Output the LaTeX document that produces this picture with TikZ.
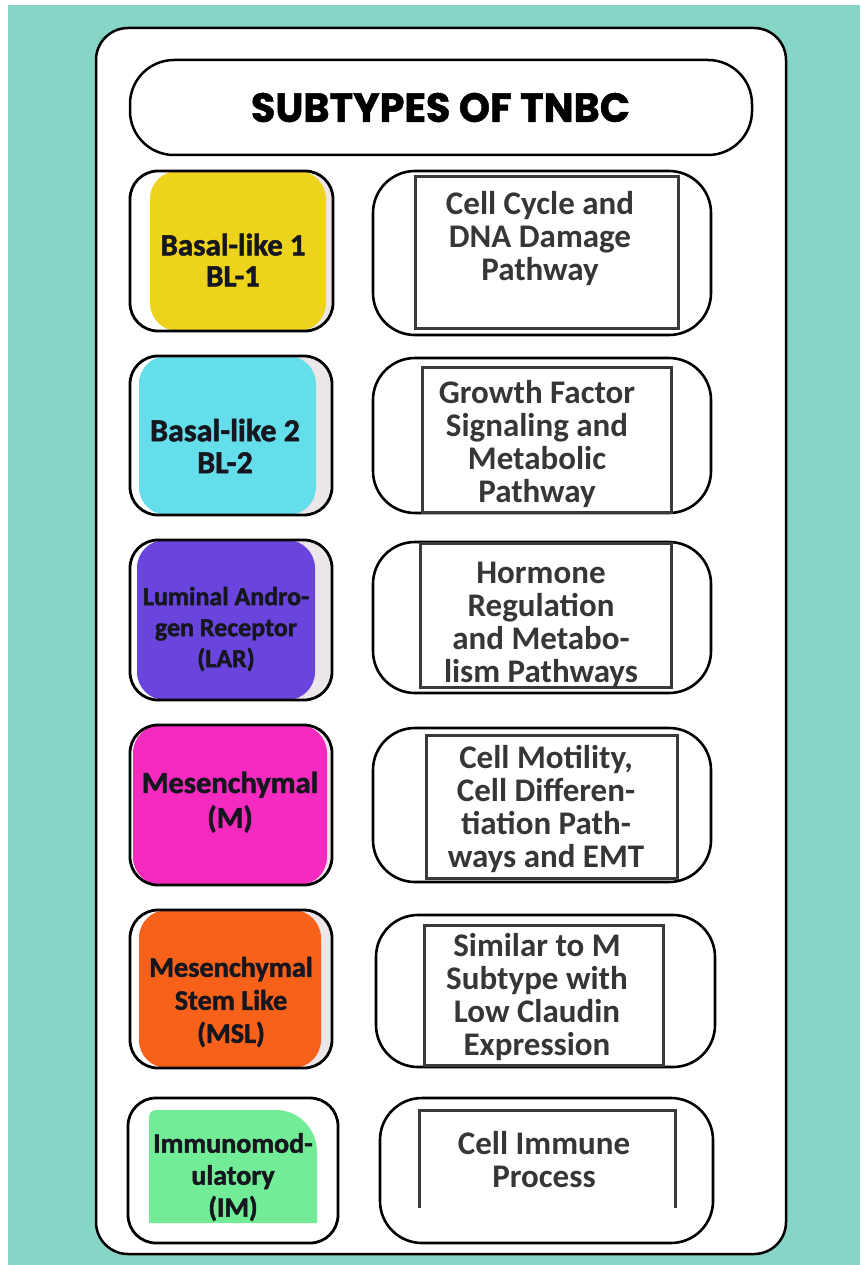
\documentclass[tikz,border=0pt]{standalone}
\usepackage{graphicx}
\usepackage{fontspec}
\setmainfont{Carlito}
\newfontfamily\titlefont{Poppins}[BoldFeatures={FakeBold=1.2}]
\newfontfamily\rfont{Carlito}
\newfontfamily\lfont{Carlito}[BoldFeatures={FakeBold=1.6}]
\definecolor{bgteal}{HTML}{86D5C7}
\definecolor{cyellow}{HTML}{EED31C}
\definecolor{ccyan}{HTML}{63DEEA}
\definecolor{cpurple}{HTML}{6A45DD}
\definecolor{cmagenta}{HTML}{F52ABF}
\definecolor{corange}{HTML}{F8611A}
\definecolor{cgreen}{HTML}{73EC98}
\definecolor{innergray}{HTML}{3A3A3A}
\definecolor{lefttext}{HTML}{16161E}
\definecolor{righttext}{HTML}{363636}
\definecolor{edgestrip}{HTML}{ECE6E9}
\tikzset{
  frame/.style={draw=black, line width=2.5pt, fill=white, rounded corners=32pt, inner sep=0pt, outer sep=0pt, anchor=north west},
  titlebox/.style={draw=black, line width=2.5pt, fill=white, rounded corners=44pt, inner sep=0pt, outer sep=0pt, anchor=north west},
  lbox/.style={draw=black, line width=2.8pt, fill=white, rounded corners=28pt, inner sep=0pt, outer sep=0pt, anchor=north west},
  rbox/.style={draw=black, line width=2.6pt, fill=white, rounded corners=42pt, inner sep=0pt, outer sep=0pt, anchor=north west},
  inrect/.style={draw=innergray, line width=3pt, fill=white, inner sep=0pt, outer sep=0pt, anchor=north west},
  inline/.style={draw=innergray, line width=3pt},
  colfill/.style n args={3}{path picture={
    \fill[edgestrip] ([xshift=#2]path picture bounding box.north west) rectangle (path picture bounding box.south east);
    \fill[#1] ([xshift=#2]path picture bounding box.north west) rectangle ([xshift=-#3]path picture bounding box.south east);}},
  ltext/.style={text=lefttext, align=center, inner sep=0pt},
  rtext/.style={text=righttext, align=center, inner sep=0pt, font=\rfont\bfseries\fontsize{33}{33}\selectfont},
}
\begin{document}
\begin{tikzpicture}[x=1pt,y=-1pt]
\useasboundingbox (0,0) rectangle (860,1265);
\fill[white] (0,0) rectangle (860,1265);
\fill[bgteal] (8,5) rectangle (860,1265);
% frame
\node[frame, minimum width=690pt, minimum height=1226pt] (frame) at (96,28) {};
% title
\node[titlebox, minimum width=622pt, minimum height=95pt] (title) at (130,60) {};
\node[inner sep=0pt] (titletext) at (440.5,107.5) {\resizebox{379pt}{29pt}{\titlefont\bfseries SUBTYPES OF TNBC}};
% left boxes
\node[lbox, minimum width=203pt, minimum height=160pt, colfill={cyellow}{20pt}{7pt}] (l1) at (130,171) {};
\node[lbox, minimum width=202pt, minimum height=159pt, colfill={ccyan}{9pt}{16pt}] (l2) at (130,356) {};
\node[lbox, minimum width=202pt, minimum height=160pt, colfill={cpurple}{7pt}{17pt}] (l3) at (130,540) {};
\node[lbox, minimum width=202pt, minimum height=160pt, colfill={cmagenta}{3pt}{5pt}] (l4) at (130,725) {};
\node[lbox, minimum width=202pt, minimum height=158pt, colfill={corange}{9pt}{11pt}] (l5) at (130,910) {};
\node[lbox, minimum width=210pt, minimum height=145pt] (l6) at (128,1098) {};
\fill[cgreen] (149,1223) -- (149,1117) to[out=90,in=180] (156,1110) -- (276,1110) to[out=0,in=90] (317,1152) -- (317,1223) -- cycle;
% left texts
\node[ltext, font=\lfont\bfseries\fontsize{31}{31}\selectfont] (lt1) at (233,260) {Basal-like 1\\BL-1};
\node[ltext, font=\lfont\bfseries\fontsize{32}{32}\selectfont] (lt2) at (225,446) {Basal-like 2\\BL-2};
\node[ltext, font=\lfont\bfseries\fontsize{26}{31}\selectfont] (lt3) at (226,629) {Luminal Andro-\\gen Receptor\\(LAR)};
\node[ltext, font=\lfont\bfseries\fontsize{30.5}{35}\selectfont] (lt4) at (230,802) {Mesenchymal\\(M)};
\node[ltext, font=\lfont\bfseries\fontsize{28.3}{33}\selectfont] (lt5) at (231,1002) {Mesenchymal\\Stem Like\\(MSL)};
\node[ltext, font=\lfont\bfseries\fontsize{28}{32}\selectfont] (lt6) at (233,1177) {Immunomod-\\ulatory\\(IM)};
% right boxes
\node[rbox, minimum width=338pt, minimum height=164pt] (r1) at (373,171) {};
\node[inrect, minimum width=263pt, minimum height=151pt] (i1) at (415,177) {};
\node[rbox, minimum width=338pt, minimum height=155pt] (r2) at (373,358) {};
\node[inrect, minimum width=249pt, minimum height=145pt] (i2) at (422,367) {};
\node[rbox, minimum width=338pt, minimum height=151pt] (r3) at (373,542) {};
\node[inrect, minimum width=251pt, minimum height=144pt] (i3) at (420,543) {};
\node[rbox, minimum width=338pt, minimum height=154pt] (r4) at (373,728) {};
\node[inrect, minimum width=251pt, minimum height=143pt] (i4) at (426,735) {};
\node[rbox, minimum width=339pt, minimum height=152pt] (r5) at (376,915) {};
\node[inrect, minimum width=239pt, minimum height=140pt] (i5) at (424,925) {};
\node[rbox, minimum width=333pt, minimum height=145pt] (r6) at (380,1098) {};
\coordinate (i6a) at (419,1208);
\coordinate (i6b) at (419,1110);
\coordinate (i6c) at (675,1110);
\coordinate (i6d) at (675,1208);
\draw[inline] (i6a) -- (i6b) -- (i6c) -- (i6d);
% right texts
\node[rtext] (rt1) at (540,239) {Cell Cycle and\\DNA Damage\\Pathway};
\node[rtext] (rt2) at (537,444) {Growth Factor\\Signaling and\\Metabolic\\Pathway};
\node[rtext] (rt3) at (541,625) {Hormone\\Regulation\\and Metabo-\\lism Pathways};
\node[rtext] (rt4) at (546,809) {Cell Motility,\\Cell Differen-\\tiation Path-\\ways and EMT};
\node[rtext] (rt5) at (537,997) {Similar to M\\Subtype with\\Low Claudin\\Expression};
\node[rtext] (rt6) at (544,1160) {Cell Immune\\Process};
\end{tikzpicture}
\end{document}
